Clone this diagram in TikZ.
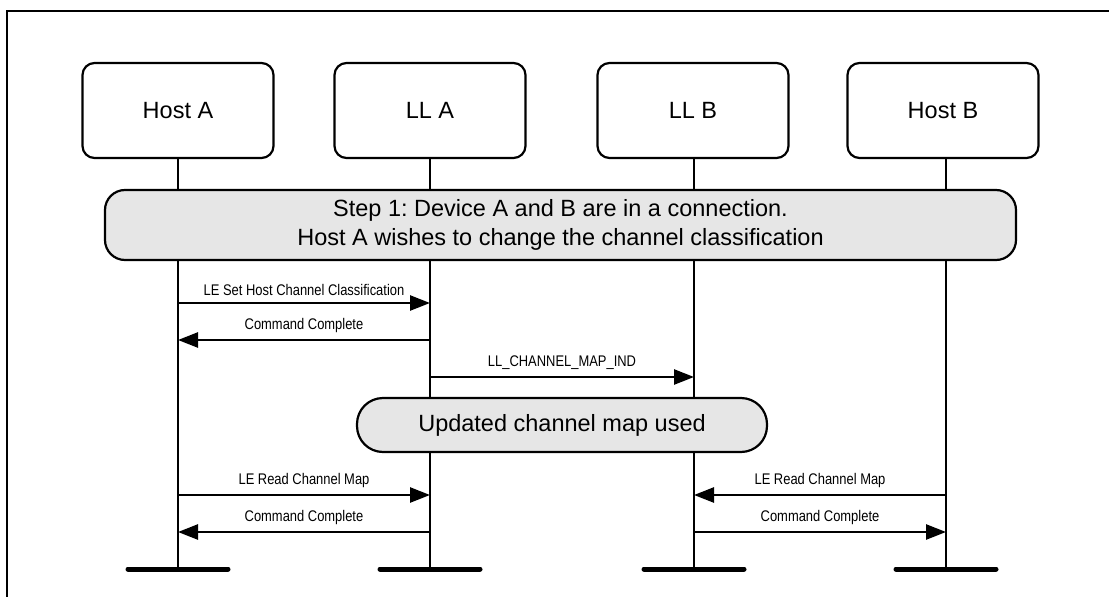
\documentclass[tikz,border=0pt]{standalone}
\usepackage{fontspec}
\setmainfont{Liberation Sans}
\newfontfamily\narrowfont[FakeStretch=0.84]{Liberation Sans}
\usetikzlibrary{arrows.meta}
\definecolor{boxfill}{HTML}{E6E6E6}
\frenchspacing
\tikzset{
  actor/.style={draw, line width=2.2pt, rounded corners=12pt, minimum width=191pt,
    minimum height=95pt, inner sep=0pt, font=\fontsize{23.5}{28}\selectfont},
  note/.style={draw, line width=2.2pt, fill=boxfill, inner sep=0pt, align=center,
    font=\fontsize{23.5}{29.5}\selectfont},
  lifeline/.style={line width=2.6pt},
  endbar/.style={line width=5pt, line cap=round},
  msg/.style={line width=2.6pt, -{Triangle[length=20pt,width=15pt]}},
  msglabel/.style={font=\narrowfont\fontsize{15.4}{18}\selectfont, inner sep=0pt}
}
\begin{document}
\begin{tikzpicture}[x=1pt,y=-1pt]
\useasboundingbox (0,0) rectangle (1109,597);
% frame
\draw[line width=2.2pt] (7,600) -- (7,11) -- (1112,11);

% actors
\node[actor] (ha)  at (178,110.5) {Host A};
\node[actor] (lla) at (430,110.5) {LL A};
\node[actor] (llb) at (693,110.5) {LL B};
\node[actor] (hb)  at (943,110.5) {Host B};

% lifeline ends
\coordinate (haE)  at (178,569);
\coordinate (llaE) at (430,569);
\coordinate (llbE) at (694,569);
\coordinate (hbE)  at (946,569);
\coordinate (haT)  at (178,158);
\coordinate (llaT) at (430,158);
\coordinate (llbT) at (694,158);
\coordinate (hbT)  at (946,158);

\draw[lifeline] (haT) -- (haE);
\draw[lifeline] (llaT) -- (llaE);
\draw[lifeline] (llbT) -- (llbE);
\draw[lifeline] (hbT) -- (hbE);

\coordinate (haBL) at (128,569);  \coordinate (haBR) at (228,569);
\coordinate (llaBL) at (380,569); \coordinate (llaBR) at (480,569);
\coordinate (llbBL) at (644,569); \coordinate (llbBR) at (744,569);
\coordinate (hbBL) at (896,569);  \coordinate (hbBR) at (996,569);
\draw[endbar] (haBL) -- (haBR);
\draw[endbar] (llaBL) -- (llaBR);
\draw[endbar] (llbBL) -- (llbBR);
\draw[endbar] (hbBL) -- (hbBR);

% step box
\node[note, rounded corners=20pt, minimum width=911pt, minimum height=70pt] (step) at (560.5,225)
  {Step 1: Device A and B are in a connection.\\Host A wishes to change the channel classification};

% messages
\coordinate (m1s) at (178,303); \coordinate (m1e) at (430,303);
\draw[msg] (m1s) -- node[msglabel, above=6pt] (l1) {LE Set Host Channel Classification} (m1e);

\coordinate (m2s) at (430,340); \coordinate (m2e) at (178,340);
\draw[msg] (m2s) -- node[msglabel, above=6pt] (l2) {Command Complete} (m2e);

\coordinate (m3s) at (430,377); \coordinate (m3e) at (694,377);
\draw[msg] (m3s) -- node[msglabel, above=6pt] (l3) {LL\_CHANNEL\_MAP\_IND} (m3e);

% updated box
\node[note, rounded corners=26pt, minimum width=410pt, minimum height=54pt] (upd) at (562,425)
  {Updated channel map used};

\coordinate (m4s) at (178,495); \coordinate (m4e) at (430,495);
\draw[msg] (m4s) -- node[msglabel, above=6pt] (l4) {LE Read Channel Map} (m4e);

\coordinate (m5s) at (430,532); \coordinate (m5e) at (178,532);
\draw[msg] (m5s) -- node[msglabel, above=6pt] (l5) {Command Complete} (m5e);

\coordinate (m6s) at (946,495); \coordinate (m6e) at (694,495);
\draw[msg] (m6s) -- node[msglabel, above=6pt] (l6) {LE Read Channel Map} (m6e);

\coordinate (m7s) at (694,532); \coordinate (m7e) at (946,532);
\draw[msg] (m7s) -- node[msglabel, above=6pt] (l7) {Command Complete} (m7e);
\end{tikzpicture}
\end{document}
